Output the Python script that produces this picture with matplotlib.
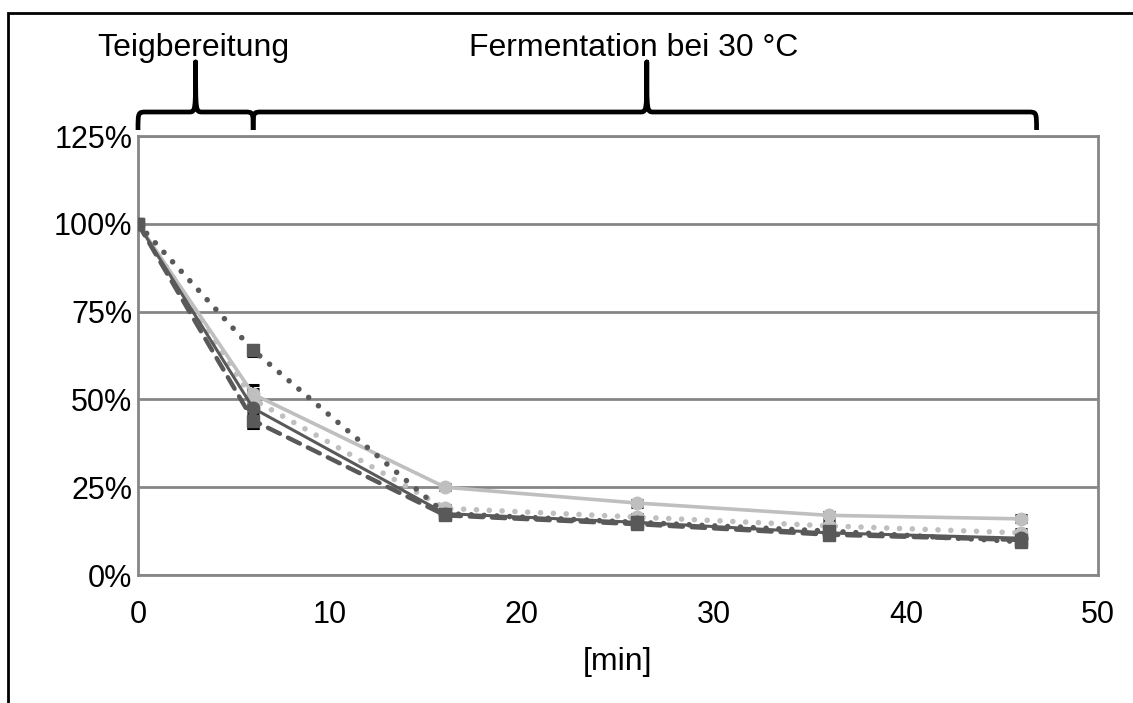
import matplotlib
matplotlib.use("Agg")
import matplotlib.pyplot as plt
from matplotlib.path import Path
from matplotlib.patches import PathPatch, Rectangle
from matplotlib.transforms import blended_transform_factory
from matplotlib.ticker import PercentFormatter

plt.rcParams['font.family'] = ['Liberation Sans', 'DejaVu Sans']

# Sampling times [min]
time_min = [0, 6, 16, 26, 36, 46]

# Relative content [%] per series
dark_solid = [100, 47.5, 17.5, 15.0, 12.0, 10.5]
dark_solid_err = [1.0, 5.5, 1.0, 1.0, 1.0, 1.0]
dark_dashed = [100, 44.0, 17.0, 14.5, 11.5, 10.0]
dark_dashed_err = [1.0, 2.0, 1.0, 1.0, 1.0, 1.0]
dark_dotted = [100, 64.0, 17.5, 15.0, 12.5, 9.5]
dark_dotted_err = [1.0, 1.5, 1.0, 1.0, 1.0, 1.0]
light_solid = [100, 51.5, 25.0, 20.5, 17.0, 16.0]
light_solid_err = [1.0, 2.5, 0.8, 1.0, 1.0, 1.0]
light_dotted = [100, 50.0, 19.0, 16.5, 14.0, 12.0]
light_dotted_err = [1.0, 2.0, 1.0, 1.0, 1.0, 1.0]

y_ticks = [0, 25, 50, 75, 100, 125]
x_ticks = [0, 10, 20, 30, 40, 50]

phase_labels = ["Teigbereitung", "Fermentation bei 30 °C"]
phase_spans = [(0, 6), (6, 46.8)]
phase_tips = [3, 26.5]
phase_label_x = [2.9, 25.8]

DARK = "#595959"
LIGHT = "#bfbfbf"
GRID = "#868686"

fig = plt.figure(figsize=(11.33, 7.03), dpi=100)
ax = fig.add_axes([0.1218, 0.182, 0.8473, 0.6245])

DOT = (0, (0.01, 2.3))
DASH = (0, (3.0, 2.0))
series = [
    (light_dotted, light_dotted_err, LIGHT, DOT, 4.0, "o"),
    (light_solid, light_solid_err, LIGHT, "-", 2.6, "o"),
    (dark_dotted, dark_dotted_err, DARK, DOT, 4.0, "s"),
    (dark_dashed, dark_dashed_err, DARK, DASH, 3.2, "s"),
    (dark_solid, dark_solid_err, DARK, "-", 2.2, "o"),
]
for vals, errs, col, ls, lw, mk in series:
    ax.errorbar(time_min, vals, yerr=errs, fmt="none", ecolor="black",
                elinewidth=1.5, capsize=4, capthick=2.2, zorder=3)
    ax.plot(time_min, vals, color=col, linestyle=ls, linewidth=lw,
            dash_capstyle="round", solid_capstyle="round",
            marker=mk, markersize=9, markeredgecolor=col,
            markerfacecolor=col, zorder=4)

ax.set_xlim(0, 50)
ax.set_ylim(0, 125)
ax.set_xticks(x_ticks)
ax.set_yticks(y_ticks)
ax.yaxis.set_major_formatter(PercentFormatter(decimals=0))
ax.tick_params(axis="both", length=0, labelsize=22, colors="black")
ax.tick_params(axis="y", pad=4)
ax.tick_params(axis="x", pad=18)
ax.grid(axis="y", color=GRID, linewidth=2)
ax.set_axisbelow(True)
for sp in ax.spines.values():
    sp.set_color(GRID)
    sp.set_linewidth(2)
ax.set_xlabel("[min]", fontsize=23, labelpad=12)

# Curly braces marking the two process phases
trans = blended_transform_factory(ax.transData, fig.transFigure)
yb, yh, yt = 1 - 130 / 703, 1 - 112 / 703, 1 - 62 / 703
for (x0, x1), xm in zip(phase_spans, phase_tips):
    r, r2 = 0.45, 0.35
    verts = [
        (x0, yb), (x0, yh), (x0, yh), (x0 + r, yh),
        (xm - r2, yh),
        (xm, yh), (xm, yh), (xm, yt),
        (xm, yh), (xm, yh), (xm + r2, yh),
        (x1 - r, yh),
        (x1, yh), (x1, yh), (x1, yb),
    ]
    codes = [Path.MOVETO, Path.CURVE4, Path.CURVE4, Path.CURVE4,
             Path.LINETO,
             Path.CURVE4, Path.CURVE4, Path.CURVE4,
             Path.CURVE4, Path.CURVE4, Path.CURVE4,
             Path.LINETO,
             Path.CURVE4, Path.CURVE4, Path.CURVE4]
    patch = PathPatch(Path(verts, codes), transform=trans, fill=False,
                      edgecolor="black", linewidth=3.4, capstyle="butt",
                      joinstyle="round", clip_on=False)
    fig.add_artist(patch)

for label, xm in zip(phase_labels, phase_label_x):
    ax.text(xm, 1 - 48 / 703, label, transform=trans, ha="center",
            va="center", fontsize=23)

# Outer frame
fig.add_artist(Rectangle((8 / 1133, -0.1), 1.2, 1.1 - 13 / 703,
                         transform=fig.transFigure, fill=False,
                         edgecolor="black", linewidth=2, clip_on=False))

fig.savefig("out.png", dpi=100)
